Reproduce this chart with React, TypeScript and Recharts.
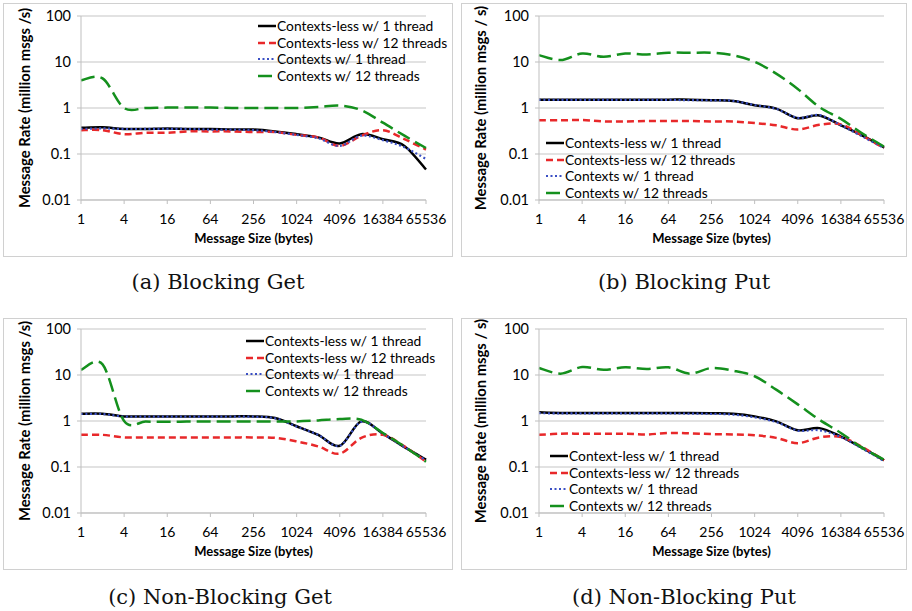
import { LineChart, Line, XAxis, YAxis, CartesianGrid, Legend } from 'recharts';

const sizes = ['1', '2', '4', '8', '16', '32', '64', '128', '256', '512', '1024', '2048', '4096', '8192', '16384', '32768', '65536'];
const yTicks = [0.01, 0.1, 1, 10, 100];

// (a) Blocking Get
const aCl1 = [0.37, 0.38, 0.35, 0.35, 0.36, 0.35, 0.35, 0.34, 0.34, 0.31, 0.27, 0.23, 0.17, 0.27, 0.21, 0.15, 0.046];
const aCl12 = [0.33, 0.33, 0.27, 0.29, 0.29, 0.31, 0.31, 0.31, 0.3, 0.3, 0.26, 0.23, 0.15, 0.25, 0.33, 0.21, 0.125];
const aC1 = [0.35, 0.36, 0.35, 0.35, 0.35, 0.35, 0.34, 0.34, 0.33, 0.3, 0.26, 0.22, 0.15, 0.25, 0.2, 0.14, 0.078];
const aC12 = [4.0, 4.4, 1.0, 1.0, 1.02, 1.02, 1.02, 1.0, 1.0, 1.0, 1.0, 1.05, 1.13, 0.9, 0.48, 0.25, 0.135];

// (b) Blocking Put
const bCl1 = [1.52, 1.52, 1.52, 1.52, 1.52, 1.52, 1.52, 1.52, 1.48, 1.42, 1.15, 0.97, 0.6, 0.69, 0.42, 0.25, 0.14];
const bCl12 = [0.54, 0.54, 0.55, 0.51, 0.51, 0.52, 0.52, 0.52, 0.51, 0.51, 0.47, 0.42, 0.34, 0.43, 0.44, 0.25, 0.134];
const bC1 = [1.5, 1.5, 1.5, 1.5, 1.5, 1.5, 1.5, 1.48, 1.47, 1.43, 1.16, 0.96, 0.61, 0.7, 0.42, 0.24, 0.135];
const bC12 = [14.1, 11, 15.3, 13, 15.3, 14.6, 15.9, 15.9, 15.9, 14, 10.1, 5.6, 2.6, 1.05, 0.58, 0.28, 0.145];

// (c) Non-Blocking Get
const cCl1 = [1.44, 1.44, 1.26, 1.26, 1.26, 1.26, 1.26, 1.26, 1.26, 1.16, 0.77, 0.5, 0.29, 0.98, 0.53, 0.27, 0.145];
const cCl12 = [0.5, 0.5, 0.44, 0.44, 0.44, 0.44, 0.44, 0.44, 0.44, 0.43, 0.36, 0.28, 0.195, 0.43, 0.5, 0.28, 0.13];
const cC1 = [1.42, 1.42, 1.25, 1.25, 1.25, 1.25, 1.25, 1.25, 1.24, 1.15, 0.76, 0.5, 0.29, 0.96, 0.53, 0.27, 0.14];
const cC12 = [13, 17, 1.0, 0.97, 0.96, 0.97, 0.97, 0.97, 0.97, 0.97, 0.98, 1.03, 1.1, 1.07, 0.55, 0.28, 0.13];

// (d) Non-Blocking Put
const dCl1 = [1.54, 1.5, 1.5, 1.5, 1.5, 1.5, 1.5, 1.5, 1.48, 1.44, 1.26, 0.98, 0.63, 0.7, 0.46, 0.26, 0.14];
const dCl12 = [0.5, 0.53, 0.53, 0.53, 0.53, 0.51, 0.55, 0.54, 0.52, 0.51, 0.49, 0.43, 0.33, 0.44, 0.45, 0.27, 0.14];
const dC1 = [1.48, 1.46, 1.46, 1.46, 1.46, 1.46, 1.46, 1.45, 1.43, 1.38, 1.2, 0.95, 0.62, 0.63, 0.45, 0.25, 0.135];
const dC12 = [14.2, 10.7, 14.9, 13, 14.7, 13.5, 14.7, 10.7, 14.2, 12.4, 9.4, 4.8, 2.3, 1.07, 0.55, 0.26, 0.145];

const labelsStd = ['Contexts-less w/ 1 thread', 'Contexts-less w/ 12 threads', 'Contexts w/ 1 thread', 'Contexts w/ 12 threads'];
const labelsD = ['Context-less w/ 1 thread', 'Contexts-less w/ 12 threads', 'Contexts w/ 1 thread', 'Contexts w/ 12 threads'];

const series = [
  { key: 'cl1', color: '#000000', dash: undefined as string | undefined, width: 2.5 },
  { key: 'cl12', color: '#e8282a', dash: '7 4', width: 2.5 },
  { key: 'c1', color: '#3a4fc4', dash: '2 2.5', width: 2.2 },
  { key: 'c12', color: '#14901d', dash: '14 6', width: 2.5 },
];

// smoothing like Excel's "smoothed line": Catmull-Rom through every point
function excelSmooth(context: any) {
  let xs: number[] = [];
  let ys: number[] = [];
  return {
    areaStart() {},
    areaEnd() {},
    lineStart() {
      xs = [];
      ys = [];
    },
    lineEnd() {
      const n = xs.length;
      if (!n) return;
      context.moveTo(xs[0], ys[0]);
      for (let i = 0; i < n - 1; i++) {
        const i0 = Math.max(i - 1, 0);
        const i3 = Math.min(i + 2, n - 1);
        context.bezierCurveTo(
          xs[i] + (xs[i + 1] - xs[i0]) / 6,
          ys[i] + (ys[i + 1] - ys[i0]) / 6,
          xs[i + 1] - (xs[i3] - xs[i]) / 6,
          ys[i + 1] - (ys[i3] - ys[i]) / 6,
          xs[i + 1],
          ys[i + 1]
        );
      }
    },
    point(x: number, y: number) {
      xs.push(+x);
      ys.push(+y);
    },
  };
}

const build = (cl1: number[], cl12: number[], c1: number[], c12: number[]) =>
  sizes.map((size, i) => ({ size, cl1: cl1[i], cl12: cl12[i], c1: c1[i], c12: c12[i] }));

function LegendBox({ labels }: { labels: string[] }) {
  return (
    <div style={{ fontSize: 13.8, color: '#000', lineHeight: '16.6px' }}>
      {series.map((s, i) => (
        <div key={s.key} style={{ display: 'flex', alignItems: 'center', whiteSpace: 'nowrap' }}>
          <svg width={18} height={10} style={{ marginRight: 1 }}>
            <line x1={0} y1={5} x2={18} y2={5} stroke={s.color} strokeWidth={s.width} strokeDasharray={s.dash} />
          </svg>
          {labels[i]}
        </div>
      ))}
    </div>
  );
}

interface PanelProps {
  left: number;
  top: number;
  w: number;
  h: number;
  data: any[];
  labels: string[];
  yLabel: string;
  legendLeft: number;
  legendTop: number;
  yLabelOffset: number;
  marginTop: number;
  marginRight: number;
}

function Panel(p: PanelProps) {
  return (
    <div
      style={{
        position: 'absolute',
        left: p.left,
        top: p.top,
        width: p.w,
        height: p.h,
        border: '1px solid #d0d0d0',
        boxSizing: 'border-box',
      }}
    >
      <LineChart
        width={p.w - 2}
        height={p.h - 2}
        data={p.data}
        margin={{ top: p.marginTop, right: p.marginRight, left: 17, bottom: 10 }}
      >
        <CartesianGrid vertical={false} stroke="#d9d9d9" strokeWidth={1.3} />
        <XAxis
          dataKey="size"
          interval={1}
          height={46}
          tick={{ fill: '#000', fontSize: 14 }}
          tickSize={4}
          tickMargin={10}
          stroke="#bfbfbf"
          label={{
            value: 'Message Size (bytes)',
            position: 'insideBottom',
            offset: 3,
            style: { fontWeight: 'bold', fontSize: 13, fill: '#000' },
          }}
        />
        <YAxis
          type="number"
          scale="log"
          domain={[0.01, 100]}
          ticks={yTicks}
          allowDataOverflow
          width={60}
          tick={{ fill: '#000', fontSize: 14.5 }}
          tickSize={4}
          tickMargin={6}
          stroke="#bfbfbf"
          tickFormatter={(v: number) => String(v)}
          label={{
            value: p.yLabel,
            angle: -90,
            position: 'insideLeft',
            offset: p.yLabelOffset,
            style: { textAnchor: 'middle', fontWeight: 'bold', fontSize: 14.8, fill: '#000' },
          }}
        />
        <Legend
          layout="vertical"
          align="center"
          verticalAlign="middle"
          wrapperStyle={{ left: p.legendLeft, top: p.legendTop, width: 'auto' }}
          content={() => <LegendBox labels={p.labels} />}
        />
        {series.map((s) => (
          <Line
            key={s.key}
            dataKey={s.key}
            type={excelSmooth as any}
            stroke={s.color}
            strokeWidth={s.width}
            strokeDasharray={s.dash}
            dot={false}
            activeDot={false}
            isAnimationActive={false}
          />
        ))}
      </LineChart>
    </div>
  );
}

const captionStyle = (x: number, y: number): React.CSSProperties => ({
  position: 'absolute',
  left: x,
  top: y,
  transform: 'translate(-50%, -50%)',
  fontFamily: '"DejaVu Serif", serif',
  fontSize: 21,
  whiteSpace: 'nowrap',
  color: '#111',
});

export default function App() {
  return (
    <div
      style={{
        position: 'absolute',
        left: 0,
        top: 0,
        width: 912,
        height: 611,
        background: '#fff',
        fontFamily: 'Lato, sans-serif',
        overflow: 'hidden',
      }}
    >
      <Panel left={3} top={3} w={450} h={254} data={build(aCl1, aCl12, aC1, aC12)} labels={labelsStd}
        yLabel="Message Rate (million msgs /s)" legendLeft={254} legendTop={14} yLabelOffset={4} marginTop={12} marginRight={26} />
      <Panel left={461} top={3} w={446} h={254} data={build(bCl1, bCl12, bC1, bC12)} labels={labelsStd}
        yLabel="Message Rate (million msgs / s)" legendLeft={84} legendTop={131} yLabelOffset={2} marginTop={12} marginRight={22} />
      <Panel left={3} top={318} w={450} h={252} data={build(cCl1, cCl12, cC1, cC12)} labels={labelsStd}
        yLabel="Message Rate (million msgs /s)" legendLeft={242} legendTop={14} yLabelOffset={4} marginTop={10} marginRight={26} />
      <Panel left={461} top={318} w={446} h={252} data={build(dCl1, dCl12, dC1, dC12)} labels={labelsD}
        yLabel="Message Rate (million msgs / s)" legendLeft={88} legendTop={129} yLabelOffset={2} marginTop={10} marginRight={22} />
      <div style={captionStyle(218, 282)}>(a) Blocking Get</div>
      <div style={captionStyle(684, 282)}>(b) Blocking Put</div>
      <div style={captionStyle(220, 597)}>(c) Non-Blocking Get</div>
      <div style={captionStyle(684, 597)}>(d) Non-Blocking Put</div>
    </div>
  );
}
